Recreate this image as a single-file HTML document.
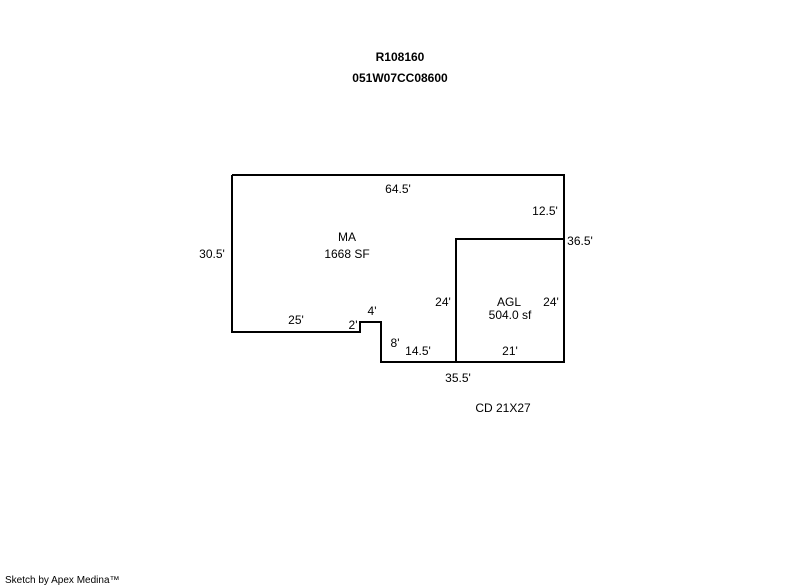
<!DOCTYPE html>
<html><head><meta charset="utf-8"><style>
html,body{margin:0;padding:0;background:#fff;}
svg{display:block;}
text{font-family:"Liberation Sans",Arial,sans-serif;font-size:12px;fill:#000;}
</style></head><body>
<svg width="800" height="587" viewBox="0 0 800 587" xmlns="http://www.w3.org/2000/svg">
<g fill="none" stroke="#000" stroke-width="2">
<polyline points="232,175 564,175 564,362 381,362 381,322 360,322 360,332 232,332 232,175"/>
<polyline points="564,239 456,239 456,362"/>
</g>
<g text-anchor="middle">
<text x="400" y="61" font-weight="bold">R108160</text>
<text x="400" y="82" font-weight="bold">051W07CC08600</text>
<text x="398" y="193">64.5'</text>
<text x="545" y="215">12.5'</text>
<text x="580" y="245">36.5'</text>
<text x="347" y="241">MA</text>
<text x="347" y="258">1668 SF</text>
<text x="212" y="258">30.5'</text>
<text x="443" y="306">24'</text>
<text x="509" y="306">AGL</text>
<text x="510" y="319">504.0 sf</text>
<text x="551" y="306">24'</text>
<text x="372" y="315">4'</text>
<text x="296" y="324">25'</text>
<text x="353" y="329">2'</text>
<text x="395" y="347">8'</text>
<text x="418" y="355">14.5'</text>
<text x="510" y="355">21'</text>
<text x="458" y="382">35.5'</text>
<text x="503" y="412">CD 21X27</text>
</g>
<text x="5" y="583" style="font-size:10px">Sketch by Apex Medina™</text>
</svg>
</body></html>
